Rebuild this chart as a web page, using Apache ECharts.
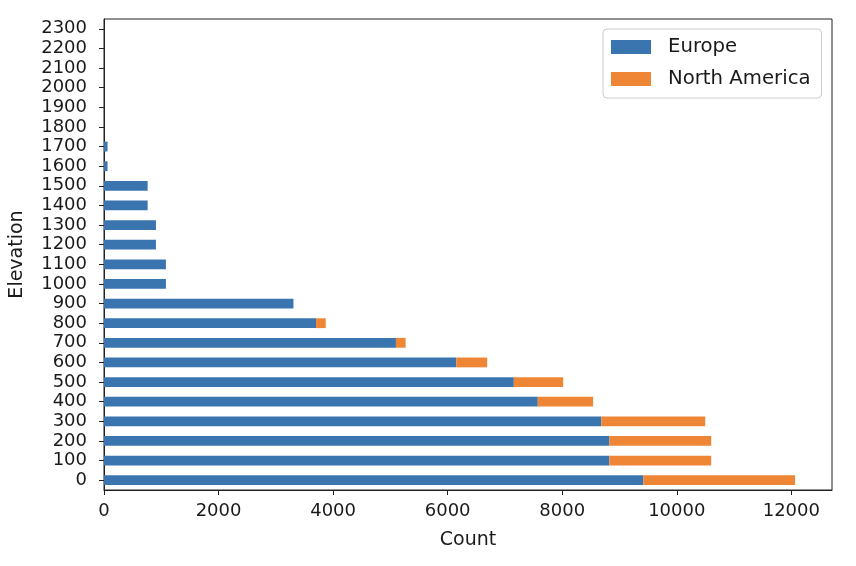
<!DOCTYPE html>
<html>
<head>
<meta charset="utf-8">
<script src="https://cdn.jsdelivr.net/npm/echarts@6/dist/echarts.min.js"></script>
<style>html,body{margin:0;padding:0;background:#fff;}#c{width:856px;height:566px;}</style>
</head>
<body>
<div id="c"></div>
<script>
const categories = ['0','100','200','300','400','500','600','700','800','900','1000','1100','1200','1300','1400','1500','1600','1700','1800','1900','2000','2100','2200','2300'];
const europe = [9416, 8823, 8823, 8683, 7573, 7155, 6150, 5097, 3702, 3308, 1081, 1081, 907, 907, 762, 762, 62, 62, 0, 0, 0, 0, 0, 0];
const northAmerica = [2650, 1778, 1778, 1814, 966, 861, 540, 169, 169, 0, 0, 0, 0, 0, 0, 0, 0, 0, 0, 0, 0, 0, 0, 0];
const xTicks = [0, 2000, 4000, 6000, 8000, 10000, 12000];

const FONT = 'DejaVu Sans';
const chart = echarts.init(document.getElementById('c'), null, {renderer: 'canvas'});
chart.setOption({
  animation: false,
  backgroundColor: '#fff',
  grid: {left: 103, right: 24, top: 19, bottom: 76, show: true, borderColor: '#222', borderWidth: 1},
  legend: {
    orient: 'vertical', left: 603, top: 29,
    icon: 'rect',
    itemWidth: 40, itemHeight: 14, itemGap: 12,
    padding: [8, 11, 9, 8],
    borderColor: '#ccc', borderWidth: 1, borderRadius: 4, backgroundColor: '#fff',
    textStyle: {fontFamily: FONT, fontSize: 19.7, color: '#1a1a1a', padding: [0, 0, 0, 12]},
    itemStyle: {borderWidth: 0},
    data: ['Europe', 'North America']
  },
  xAxis: {
    type: 'value', min: 0, max: 12710, interval: 2000,
    name: 'Count', nameLocation: 'middle', nameGap: 41,
    nameTextStyle: {fontFamily: FONT, fontSize: 19, color: '#1a1a1a'},
    axisLine: {show: true, lineStyle: {color: '#222', width: 1}},
    axisTick: {show: true, inside: false, length: 5, lineStyle: {color: '#222'},
      customValues: xTicks},
    axisLabel: {fontFamily: FONT, fontSize: 18, color: '#1a1a1a', margin: 12,
      customValues: xTicks,
      formatter: v => (xTicks.indexOf(v) >= 0 ? String(v) : '')},
    splitLine: {show: false}
  },
  yAxis: {
    type: 'category', data: categories,
    name: 'Elevation', nameLocation: 'middle', nameGap: 77, nameRotate: 90,
    nameTextStyle: {fontFamily: FONT, fontSize: 19, color: '#1a1a1a'},
    axisLine: {show: true, lineStyle: {color: '#222', width: 1}},
    axisTick: {show: true, inside: false, length: 5, alignWithLabel: true, lineStyle: {color: '#222'}},
    axisLabel: {fontFamily: FONT, fontSize: 18, color: '#1a1a1a', margin: 17, interval: 0, lineHeight: 18},
    splitLine: {show: false}
  },
  series: [
    {name: 'Europe', type: 'bar', stack: 'total', data: europe, barWidth: '50%',
     itemStyle: {color: '#3a75b0'}},
    {name: 'North America', type: 'bar', stack: 'total', data: northAmerica, barWidth: '50%',
     itemStyle: {color: '#ef8636'}}
  ]
});
</script>
</body>
</html>
